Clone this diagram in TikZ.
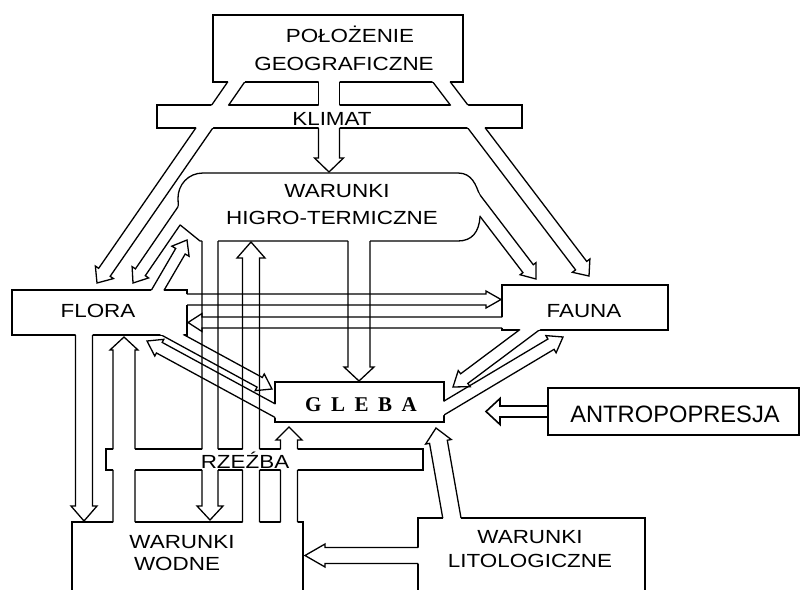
\documentclass[tikz,border=0pt]{standalone}
\usepackage{fontspec}
\setmainfont{Liberation Sans}
\newfontfamily\lblfont{Liberation Sans}[FakeStretch=1.18]
\newfontfamily\glebafont{Liberation Serif}
% hollow block arrow as a closed polygon: name, x1,y1 (tail), x2,y2 (tip), half shaft, half head, head length
\newcommand\mkarrow[8]{%
  \pgfmathsetmacro\Adx{(#4)-(#2)}%
  \pgfmathsetmacro\Ady{(#5)-(#3)}%
  \pgfmathsetmacro\Alen{100*veclen(\Adx/100,\Ady/100)}%
  \pgfmathsetmacro\Aux{\Adx/\Alen}%
  \pgfmathsetmacro\Auy{\Ady/\Alen}%
  \pgfmathsetmacro\Abx{(#4)-(#8)*\Aux}%
  \pgfmathsetmacro\Aby{(#5)-(#8)*\Auy}%
  \pgfmathsetmacro\Aax{(#2)-(#6)*\Auy}\pgfmathsetmacro\Aay{(#3)+(#6)*\Aux}%
  \pgfmathsetmacro\Abbx{\Abx-(#6)*\Auy}\pgfmathsetmacro\Abby{\Aby+(#6)*\Aux}%
  \pgfmathsetmacro\Acx{\Abx-(#7)*\Auy}\pgfmathsetmacro\Acy{\Aby+(#7)*\Aux}%
  \pgfmathsetmacro\Adxx{\Abx+(#7)*\Auy}\pgfmathsetmacro\Adyy{\Aby-(#7)*\Aux}%
  \pgfmathsetmacro\Aex{\Abx+(#6)*\Auy}\pgfmathsetmacro\Aey{\Aby-(#6)*\Aux}%
  \pgfmathsetmacro\Afx{(#2)+(#6)*\Auy}\pgfmathsetmacro\Afy{(#3)-(#6)*\Aux}%
  \xdef#1{(\Aax,\Aay) -- (\Abbx,\Abby) -- (\Acx,\Acy) -- (#4,#5) -- (\Adxx,\Adyy) -- (\Aex,\Aey) -- (\Afx,\Afy) -- cycle}}
% outline of the union of the listed closed paths
\tikzset{unionline/.style={draw,line width=1.3pt,line join=miter}}
\newcommand\uniondraw[1]{%
  \foreach \ui in {#1}{%
    \begin{scope}[even odd rule]
      \foreach \uj in {#1}{%
        \ifx\ui\uj\else\clip (-60,-60) rectangle (860,660) \uj;\fi}%
      \path[unionline] \ui;
    \end{scope}}}
% ---- shapes ----
% top cluster
\def\sPol{(213,15) rectangle (463,82)}
\def\sKli{(157,105) rectangle (522,128)}
\def\sStem{(318.5,75) rectangle (339.5,112)}
\mkarrow\aTL{241}{75}{97}{283}{7}{11}{13}
\mkarrow\aTR{434}{72}{589}{276}{7}{11}{13}
\mkarrow\aKH{329}{120}{329}{172}{10.5}{14.5}{14}
% middle cluster
\def\sHig{(203,173) -- (458,173) .. controls (472,173) and (476,185) .. (480,196) -- (480,217) .. controls (479,232) and (472,241) .. (458,241) -- (200,241) -- (179,224) -- (178,198) .. controls (178,185) and (188,173) .. (203,173) -- cycle}
\def\sRze{(106,449) rectangle (423,470)}
\def\sWod{(72,522) rectangle (303,610)}
\mkarrow\aWF{124}{530}{124}{337}{11}{14}{13}
\mkarrow\aHW{210}{230}{210}{520}{8}{13}{14}
\mkarrow\aRH{251}{530}{251}{242}{8.5}{14}{16}
\mkarrow\aRG{289}{530}{289}{427}{8.5}{13}{13}
\mkarrow\aHG{359}{230}{359}{381}{11}{15}{14}
\mkarrow\aHF{192}{197}{133}{283}{6}{10}{13}
\mkarrow\aHFa{465}{186}{536}{279}{6.5}{10}{13}
% flora cluster
\def\sFlo{(12,290) rectangle (187,335)}
\mkarrow\aFFa{180}{299.5}{501}{299.5}{5.5}{8.5}{15}
\mkarrow\aFH{152}{300}{187}{240}{5.5}{10}{13}
\mkarrow\aFW{84}{320}{84}{521}{8.5}{13}{15}
\mkarrow\aFG{160}{328}{272}{389}{5.5}{9.5}{14}
% fauna cluster
\def\sFau{(502,285) rectangle (668,330)}
\mkarrow\aFaF{510}{322.5}{188}{322.5}{5.5}{9}{14}
\mkarrow\aFaG{540}{322}{453}{387}{6}{10}{14}
% gleba cluster
\def\sGle{(275,382) rectangle (444,422)}
\mkarrow\aGF{285}{416}{147}{341}{6}{9.5}{14}
\mkarrow\aGFa{434}{414}{563}{337}{6}{10}{14}
% lito cluster
\def\sLit{(418,518) rectangle (645,610)}
\mkarrow\aLG{454}{530}{436}{428}{9}{13}{14}
\mkarrow\aLW{430}{555.5}{305}{555.5}{8}{11.5}{20}
% antropopresja arrow
\mkarrow\aAnt{548}{411.5}{486}{411.5}{5.5}{13}{14}
\tikzset{lbl/.style={font=\lblfont\fontsize{19}{23}\selectfont,inner sep=0pt,anchor=base}}
\begin{document}
\begin{tikzpicture}[x=1pt,y=-1pt]
  \fill[white] (0,0) rectangle (800,589);
  \useasboundingbox (0,0) rectangle (800,589);
  \clip (0,0) rectangle (800,589);
  \uniondraw{\sPol,\sKli,\sStem,\aTL,\aTR,\aKH}
  \uniondraw{\sHig,\sRze,\sWod,\aWF,\aHW,\aRH,\aRG,\aHG,\aHF,\aHFa}
  \uniondraw{\sFlo,\aFFa,\aFH,\aFW,\aFG}
  \uniondraw{\sFau,\aFaF,\aFaG}
  \uniondraw{\sGle,\aGF,\aGFa}
  \uniondraw{\sLit,\aLG,\aLW}
  % antropopresja
  \node[draw,line width=1.6pt,minimum width=251pt,minimum height=47pt,inner sep=0pt] (antro) at (673.5,411.5) {};
  \path[draw,line width=1.6pt] \aAnt;
  \node[font=\fontsize{23.7}{28}\selectfont,inner sep=0pt,anchor=base] (antrot) at (675,422) {ANTROPOPRESJA};
  % labels
  \node[lbl] (pol1) at (350,42) {POŁOŻENIE};
  \node[lbl] (pol2) at (344,70) {GEOGRAFICZNE};
  \node[lbl] (klimat) at (332,125) {KLIMAT};
  \node[lbl] (hig1) at (337,197) {WARUNKI};
  \node[lbl] (hig2) at (332,224) {HIGRO-TERMICZNE};
  \node[lbl] (flora) at (98,317) {FLORA};
  \node[lbl] (fauna) at (584,317) {FAUNA};
  \node[font={\glebafont\bfseries\fontsize{21}{24}\selectfont},inner sep=0pt,anchor=base] (gleba) at (361,411) {G\kern9.5pt L\kern9.5pt E\kern9.5pt B\kern9.5pt A};
  \node[lbl] (rzezba) at (245,468) {RZEŹBA};
  \node[lbl] (wod1) at (182,548) {WARUNKI};
  \node[lbl] (wod2) at (177,570) {WODNE};
  \node[lbl] (lit1) at (530,543) {WARUNKI};
  \node[lbl] (lit2) at (530,567) {LITOLOGICZNE};
\end{tikzpicture}
\end{document}
